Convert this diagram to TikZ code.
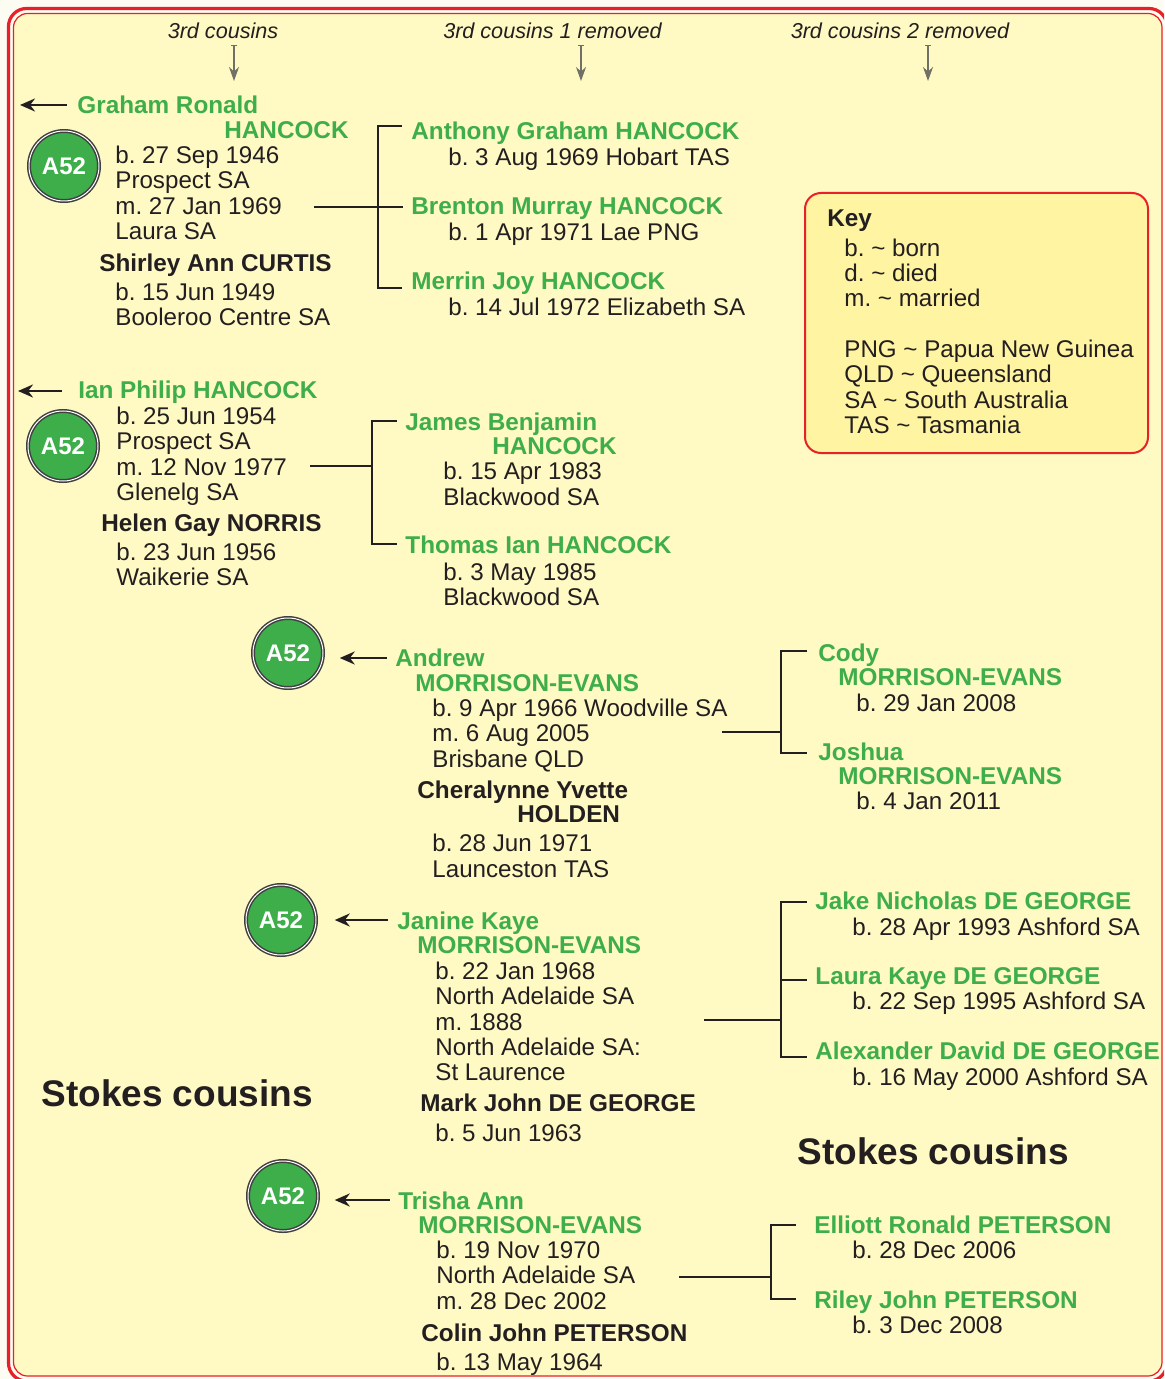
\documentclass[tikz,border=0pt]{standalone}
\usepackage{fontspec}
\setmainfont{Liberation Sans}
\usetikzlibrary{arrows.meta}
\frenchspacing

\definecolor{framered}{RGB}{232,32,40}
\definecolor{paper}{RGB}{255,249,196}
\definecolor{outside}{RGB}{253,252,242}
\definecolor{keyfill}{RGB}{255,244,162}
\definecolor{kingreen}{RGB}{62,174,74}
\definecolor{ink}{RGB}{35,31,32}
\definecolor{pointer}{RGB}{112,112,102}

\tikzset{
  txt/.style={inner sep=0pt, anchor=base west, text=ink, font=\fontsize{12.08}{12.65}\selectfont},
  info/.style={txt},
  kin/.style={txt, text=kingreen, font=\fontsize{12.15}{12.65}\selectfont\bfseries},
  spouse/.style={txt, font=\fontsize{12.15}{12.65}\selectfont\bfseries},
  gen/.style={inner sep=0pt, anchor=base, text=ink, font=\fontsize{10.8}{12}\selectfont\itshape},
  banner/.style={txt, font=\fontsize{18.5}{20}\selectfont\bfseries},
  tag/.style={circle, minimum size=35pt, inner sep=0pt, fill=kingreen, draw=black!75, double=white,
    double distance=0.5pt, line width=0.75pt, text=white, font=\fontsize{12}{12.65}\selectfont\bfseries},
  tree/.style={line width=1.4pt, ink},
  toedge/.style={line width=1.3pt, ink, -{Stealth[length=7.5pt,width=6.5pt]}},
  genarrow/.style={line width=0.7pt, pointer, {Bar[width=3pt]}-{Stealth[length=7pt,width=5pt]}}
}

\begin{document}
\begin{tikzpicture}[x=0.5pt,y=-0.5pt]
\useasboundingbox (0,0) rectangle (1164,1379);
\clip (0,0) rectangle (1164,1379);
% page and double frame
\fill[outside] (0,0) rectangle (1164,1379);
\draw[framered, line width=1.6pt, rounded corners=9pt] (8.5,8.5) rectangle (1167,1381);
\draw[framered, line width=0.6pt, fill=paper, rounded corners=7pt] (13.5,13.5) rectangle (1162,1376);

% generation headings
\node[gen] (gen1) at (223,39) {3rd cousins};
\node[gen] (gen2) at (552.5,39) {3rd cousins 1 removed};
\node[gen] (gen3) at (900,39) {3rd cousins 2 removed};
\foreach \x/\n in {234/1,581/2,928/3} {
  \coordinate (gen\n-from) at (\x,45); \coordinate (gen\n-to) at (\x,81);
  \draw[genarrow] (gen\n-from) -- (gen\n-to);
}

% key
\draw[framered, line width=1pt, fill=keyfill, rounded corners=8pt] (805,193) rectangle (1148,453);
\node[spouse] (key) at (827,226.5) {Key};
\foreach \t/\y [count=\i] in {b. \textasciitilde\ born/256.5, d. \textasciitilde\ died/281.5, m. \textasciitilde\ married/306.5,
  PNG \textasciitilde\ Papua New Guinea/357.5, QLD \textasciitilde\ Queensland/382.5,
  SA \textasciitilde\ South Australia/408.5, TAS \textasciitilde\ Tasmania/433.5}
  \node[info] (key\i) at (844,\y) {\t};

% Graham Ronald HANCOCK
\node[tag] (gr-tag) at (64,166) {A52};
\node[kin] (graham) at (77,113.5) {Graham Ronald};\node[kin] (graham2) at (224,138.5) {HANCOCK};
\foreach \t [count=\i from 0] in {b. 27 Sep 1946, Prospect SA, m. 27 Jan 1969, Laura SA}
  \node[info] (gr-d\i) at (115,{163.5+25.3*\i}) {\t};
\node[spouse] (shirley) at (99,271.5) {Shirley Ann CURTIS};
\node[info] (shirley-b) at (115,300.5) {b. 15 Jun 1949};\node[info] (shirley-p) at (115,325.8) {Booleroo Centre SA};
\node[kin] (anthony) at (411,139.5) {Anthony Graham HANCOCK};\node[info] (anthony-b) at (448,165.5) {b. 3 Aug 1969 Hobart TAS};
\node[kin] (brenton) at (411,214.5) {Brenton Murray HANCOCK};\node[info] (brenton-b) at (448,240.5) {b. 1 Apr 1971 Lae PNG};
\node[kin] (merrin) at (411,289.5) {Merrin Joy HANCOCK};\node[info] (merrin-b) at (448,315.5) {b. 14 Jul 1972 Elizabeth SA};
\coordinate (gr-out) at (20,105);\coordinate (gr-in) at (67,105);
\draw[toedge] (gr-in) -- (gr-out);
\coordinate (gr-m) at (314,207);\coordinate (gr-fork) at (378,207);
\coordinate (gr-c1) at (402,126);\coordinate (gr-c2) at (403,207);\coordinate (gr-c3) at (402,288);
\draw[tree] (gr-m) -- (gr-c2);
\draw[tree] (gr-c1) -| (gr-fork) |- (gr-c3);

% Ian Philip HANCOCK
\node[tag] (ip-tag) at (63,446) {A52};
\node[kin] (ian) at (78,398.5) {Ian Philip HANCOCK};
\foreach \t [count=\i from 0] in {b. 25 Jun 1954, Prospect SA, m. 12 Nov 1977, Glenelg SA}
  \node[info] (ip-d\i) at (116,{424.5+25.3*\i}) {\t};
\node[spouse] (helen) at (101,531.5) {Helen Gay NORRIS};
\node[info] (helen-b) at (116,560.5) {b. 23 Jun 1956};\node[info] (helen-p) at (116,585.8) {Waikerie SA};
\node[kin] (james) at (405,430.5) {James Benjamin};\node[kin] (james2) at (492,454.5) {HANCOCK};
\node[info] (james-b) at (443,479.5) {b. 15 Apr 1983};\node[info] (james-p) at (443,505) {Blackwood SA};
\node[kin] (thomas) at (405,553.5) {Thomas Ian HANCOCK};
\node[info] (thomas-b) at (443,580.5) {b. 3 May 1985};\node[info] (thomas-p) at (443,605.5) {Blackwood SA};
\coordinate (ip-out) at (18,391);\coordinate (ip-in) at (62,391);
\draw[toedge] (ip-in) -- (ip-out);
\coordinate (ip-m) at (310,466);\coordinate (ip-fork) at (372,466);
\coordinate (ip-c1) at (397,421);\coordinate (ip-c2) at (397,544);
\draw[tree] (ip-m) -- (ip-fork);
\draw[tree] (ip-c1) -| (ip-fork) |- (ip-c2);

% Andrew MORRISON-EVANS
\node[tag] (am-tag) at (288,653) {A52};
\node[kin] (andrew) at (395,666.5) {Andrew};\node[kin] (andrew2) at (415,691.5) {MORRISON-EVANS};
\foreach \t [count=\i from 0] in {b. 9 Apr 1966 Woodville SA, m. 6 Aug 2005, Brisbane QLD}
  \node[info] (am-d\i) at (432,{716.5+25.3*\i}) {\t};
\node[spouse] (cheralynne) at (417,798.5) {Cheralynne Yvette};\node[spouse] (cheralynne2) at (517,822.5) {HOLDEN};
\node[info] (cheralynne-b) at (432,851.5) {b. 28 Jun 1971};\node[info] (cheralynne-p) at (432,877) {Launceston TAS};
\node[kin] (cody) at (818,661.5) {Cody};\node[kin] (cody2) at (838,685.5) {MORRISON-EVANS};
\node[info] (cody-b) at (856,711.5) {b. 29 Jan 2008};
\node[kin] (joshua) at (818,760.5) {Joshua};\node[kin] (joshua2) at (838,784.5) {MORRISON-EVANS};
\node[info] (joshua-b) at (856,809.5) {b. 4 Jan 2011};
\coordinate (am-in) at (387,658);
\draw[toedge] (am-in) -- ([xshift=8pt]am-tag.east |- am-in);
\coordinate (am-m) at (722,732);\coordinate (am-fork) at (781,732);
\coordinate (am-c1) at (807,651);\coordinate (am-c2) at (807,753);
\draw[tree] (am-m) -- (am-fork);
\draw[tree] (am-c1) -| (am-fork) |- (am-c2);

% Janine Kaye MORRISON-EVANS
\node[tag] (jk-tag) at (281,920) {A52};
\node[kin] (janine) at (397,929.5) {Janine Kaye};\node[kin] (janine2) at (417,953.5) {MORRISON-EVANS};
\foreach \t [count=\i from 0] in {b. 22 Jan 1968, North Adelaide SA, m. 1888, North Adelaide SA:, St Laurence}
  \node[info] (jk-d\i) at (435,{979.5+25.3*\i}) {\t};
\node[spouse] (mark) at (420,1111.5) {Mark John DE GEORGE};
\node[info] (mark-b) at (435,1141.5) {b. 5 Jun 1963};
\node[kin] (jake) at (815,909.5) {Jake Nicholas DE GEORGE};\node[info] (jake-b) at (852,935.5) {b. 28 Apr 1993 Ashford SA};
\node[kin] (laura) at (815,984.5) {Laura Kaye DE GEORGE};\node[info] (laura-b) at (852,1009.5) {b. 22 Sep 1995 Ashford SA};
\node[kin] (alexander) at (815,1059.5) {Alexander David DE GEORGE};\node[info] (alexander-b) at (852,1085.5) {b. 16 May 2000 Ashford SA};
\coordinate (jk-in) at (388,920);
\draw[toedge] (jk-in) -- ([xshift=9pt]jk-tag.east |- jk-in);
\coordinate (jk-m) at (704,1020);\coordinate (jk-fork) at (781,1020);
\coordinate (jk-c1) at (807,902);\coordinate (jk-c2) at (807,980);\coordinate (jk-c3) at (807,1057);
\draw[tree] (jk-m) -- (jk-fork);
\draw[tree] (jk-c1) -| (jk-fork) |- (jk-c3);
\draw[tree] (jk-fork |- jk-c2) -- (jk-c2);

\node[banner] (stokes1) at (41,1106) {Stokes cousins};
\node[banner] (stokes2) at (797,1164) {Stokes cousins};

% Trisha Ann MORRISON-EVANS
\node[tag] (ta-tag) at (283,1196) {A52};
\node[kin] (trisha) at (398,1209.5) {Trisha Ann};\node[kin] (trisha2) at (418,1233.5) {MORRISON-EVANS};
\foreach \t [count=\i from 0] in {b. 19 Nov 1970, North Adelaide SA, m. 28 Dec 2002}
  \node[info] (ta-d\i) at (436,{1258.5+25.3*\i}) {\t};
\node[spouse] (colin) at (421,1341.5) {Colin John PETERSON};
\node[info] (colin-b) at (436,1370.5) {b. 13 May 1964};
\node[kin] (elliott) at (814,1233.5) {Elliott Ronald PETERSON};\node[info] (elliott-b) at (852,1258.5) {b. 28 Dec 2006};
\node[kin] (riley) at (814,1308.5) {Riley John PETERSON};\node[info] (riley-b) at (852,1333.5) {b. 3 Dec 2008};
\coordinate (ta-in) at (390,1200);
\draw[toedge] (ta-in) -- ([xshift=8pt]ta-tag.east |- ta-in);
\coordinate (ta-m) at (679,1277);\coordinate (ta-fork) at (771,1277);
\coordinate (ta-c1) at (796,1225);\coordinate (ta-c2) at (796,1299);
\draw[tree] (ta-m) -- (ta-fork);
\draw[tree] (ta-c1) -| (ta-fork) |- (ta-c2);
\end{tikzpicture}
\end{document}
